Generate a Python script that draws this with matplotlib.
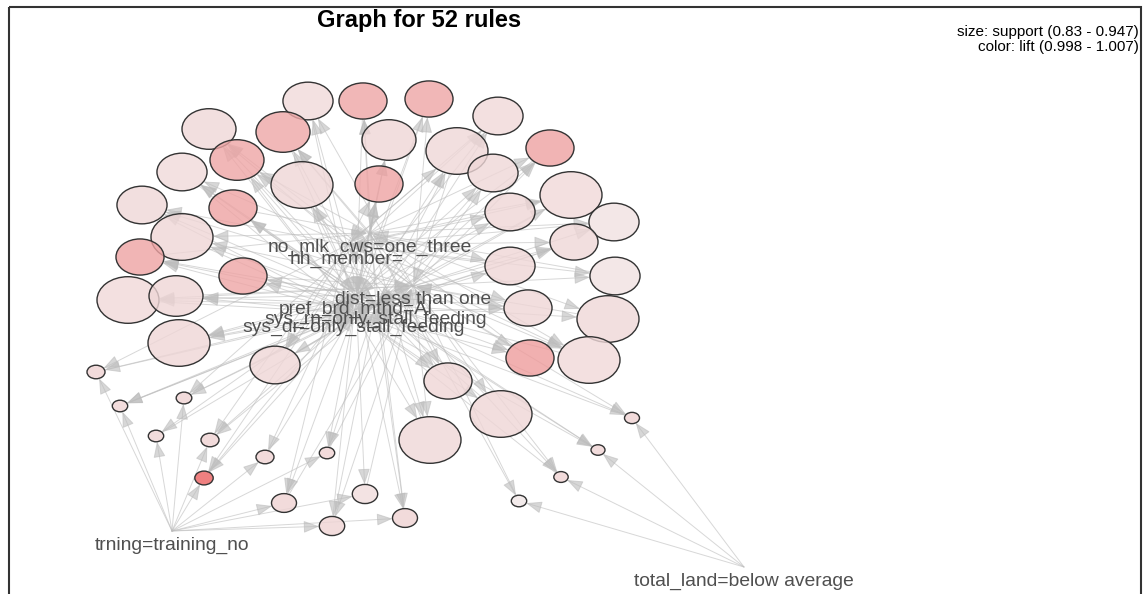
import matplotlib
matplotlib.use("Agg")
import matplotlib.pyplot as plt
import numpy as np
from matplotlib.colors import to_rgb
from matplotlib.patches import Ellipse, FancyArrowPatch, Rectangle

# item vertices (layout positions of the item nodes)
item_labels = [
    "no_mlk_cws=one_three",
    "hh_member=",
    "dist=less than one",
    "pref_brd_mthd=AI",
    "sys_rn=only_stall_feeding",
    "sys_dr=only_stall_feeding",
    "trning=training_no",
    "total_land=below average",
]
item_x = [370, 347, 413, 356, 376, 354, 172, 744]
item_y = [233, 245, 286, 295, 305, 313, 531, 567]

# rule vertices: layout position, support (size) and lift (colour)
rule_x = [308, 363, 429, 498, 209, 283, 389, 457, 550, 182,
          237, 302, 379, 493, 571, 142, 233, 182, 510, 614,
          140, 243, 574, 510, 615, 128, 176, 528, 608, 179,
          275, 530, 589, 448, 501, 430,
          96, 120, 184, 156, 210, 265, 327, 204, 284, 365, 332, 405,
          632, 598, 561, 519]
rule_y = [101, 101, 99, 116, 129, 132, 140, 151, 148, 172,
          160, 185, 184, 173, 195, 205, 208, 237, 212, 222,
          257, 276, 242, 266, 276, 300, 296, 308, 319, 343,
          365, 358, 360, 381, 414, 440,
          372, 406, 398, 436, 440, 457, 453, 478, 503, 494, 526, 518,
          418, 450, 477, 501]
rule_support = [0.918, 0.913, 0.913, 0.918, 0.9275, 0.9275, 0.9275, 0.947, 0.913, 0.918,
                0.9275, 0.947, 0.913, 0.918, 0.947, 0.918, 0.913, 0.947, 0.918, 0.918,
                0.913, 0.913, 0.913, 0.918, 0.918, 0.947, 0.9275, 0.913, 0.947, 0.947,
                0.918, 0.913, 0.947, 0.913, 0.947, 0.947,
                0.8398, 0.8334, 0.834, 0.8334, 0.8398, 0.8398, 0.8334, 0.8407,
                0.8568, 0.8578, 0.8578, 0.8568,
                0.8324, 0.830, 0.831, 0.8334]
rule_lift = [0.9990, 1.0025, 1.0025, 0.9991, 0.9992, 1.0024, 0.9993, 0.9992, 1.0027, 0.9990,
             1.0025, 0.9993, 1.0026, 0.9992, 0.9991, 0.9992, 1.0026, 0.9993, 0.9993, 0.9986,
             1.0026, 1.0025, 0.9992, 0.9993, 0.9986, 0.9991, 0.9993, 0.9993, 0.9992, 0.9993,
             0.9993, 1.0031, 0.9991, 0.9993, 0.9993, 0.9992,
             0.9995, 0.9994, 0.9995, 0.9994, 0.9995, 0.9995, 0.9995, 1.0070,
             0.9995, 0.9989, 0.9994, 0.9995,
             0.9995, 0.9994, 0.9995, 0.9982]
rule_lhs = [[1, 2], [0, 4], [2, 5], [4, 0, 3], [1, 5, 2], [0, 2, 4], [5, 3], [4, 5, 1],
            [0, 4, 2], [1, 4, 3], [2, 5, 0], [4, 3], [0, 5, 1], [2, 3], [5, 1, 0],
            [1, 2, 4], [3, 4], [2, 4, 0], [1, 3], [0, 2], [3, 4, 5], [3, 5], [2, 5, 1],
            [5, 0], [1, 2], [2, 3, 4], [5, 4], [1, 5, 3], [4, 0], [2, 5, 3], [1, 4, 0],
            [3, 5, 2], [1, 2, 0], [4, 5, 0], [5, 2], [0, 5, 2],
            [6, 4, 1], [6, 5, 2], [6, 2, 0], [6, 3], [6, 1, 4], [6, 0], [6, 4, 5],
            [6, 0, 5], [6, 5, 1], [6, 3], [6, 2, 5], [6, 1, 0],
            [7, 4, 2], [7, 5, 3], [7, 2, 1], [7, 0]]
rule_rhs = [5, 3, 3, 1, 4, 3, 0, 2, 3, 5,
            3, 5, 3, 4, 4, 5, 0, 5, 4, 1,
            0, 2, 4, 1, 0, 5, 2, 2, 2, 4,
            2, 0, 4, 1, 4, 4,
            5, 4, 5, 4, 5, 5, 2, 3,
            2, 2, 4, 4,
            5, 4, 5, 2]

support_range = (0.83, 0.947)
lift_range = (0.998, 1.007)

W, H = 1144, 594
fig = plt.figure(figsize=(W / 100, H / 100), dpi=100)
ax = fig.add_axes([0, 0, 1, 1])
ax.set_xlim(0, W)
ax.set_ylim(H, 0)
ax.axis("off")

# vertex size / colour scales
r_min, r_max = 7.0, 31.0
stretch = 1.33
rule_support = np.array(rule_support)
rx = r_min + (rule_support - support_range[0]) / (support_range[1] - support_range[0]) * (r_max - r_min)
ry = rx / stretch

low = np.array(to_rgb("#F3EEEE"))
high = np.array(to_rgb("#F08080"))
alpha = 0.8
t = np.clip((np.array(rule_lift) - lift_range[0]) / (lift_range[1] - lift_range[0]), 0, 1)
shown = low + t[:, None] * (high - low)
fills = 1 - (1 - shown) / alpha


def border_point(cx, cy, ax_r, ay_r, ox, oy):
    dx, dy = ox - cx, oy - cy
    k = 1.0 / np.sqrt((dx / ax_r) ** 2 + (dy / ay_r) ** 2)
    return cx + dx * k, cy + dy * k


def draw_edge(p0, p1):
    arr = FancyArrowPatch(p0, p1, arrowstyle="-|>,head_length=0.7,head_width=0.27",
                          mutation_scale=14, color="#BDBDBD", alpha=0.6, lw=0.7,
                          shrinkA=0, shrinkB=0, zorder=1)
    ax.add_patch(arr)


for i in range(len(rule_x)):
    cx, cy = rule_x[i], rule_y[i]
    for it in rule_lhs[i]:
        sx, sy = item_x[it], item_y[it]
        draw_edge((sx, sy), border_point(cx, cy, rx[i], ry[i], sx, sy))
    tx, ty = item_x[rule_rhs[i]], item_y[rule_rhs[i]]
    start = border_point(cx, cy, rx[i], ry[i], tx, ty)
    d = np.hypot(tx - start[0], ty - start[1])
    end = (tx - (tx - start[0]) / d * 3, ty - (ty - start[1]) / d * 3)
    draw_edge(start, end)

for i in range(len(rule_x)):
    ax.add_patch(Ellipse((rule_x[i], rule_y[i]), 2 * rx[i], 2 * ry[i],
                         facecolor=(*fills[i], alpha), edgecolor="#333333",
                         lw=1.0, zorder=2))

for lab, x, y in zip(item_labels, item_x, item_y):
    ax.text(x, y + 14, lab, ha="center", va="center", fontsize=13.9,
            family="Liberation Sans", color="#505050", zorder=3)

ax.text(419, 20, "Graph for 52 rules", ha="center", va="center", fontsize=17,
        fontweight="bold", family="Liberation Sans", color="black")
ax.text(1139, 32, f"size: support ({support_range[0]:g} - {support_range[1]:g})",
        ha="right", va="center", fontsize=11, family="Liberation Sans", color="black")
ax.text(1139, 47, f"color: lift ({lift_range[0]:g} - {lift_range[1]:g})",
        ha="right", va="center", fontsize=11, family="Liberation Sans", color="black")

ax.add_patch(Rectangle((9, 7), 1132, 620, fill=False, edgecolor="#333333", lw=1.5,
                       zorder=4, clip_on=False))

fig.savefig("out.png", dpi=100)
